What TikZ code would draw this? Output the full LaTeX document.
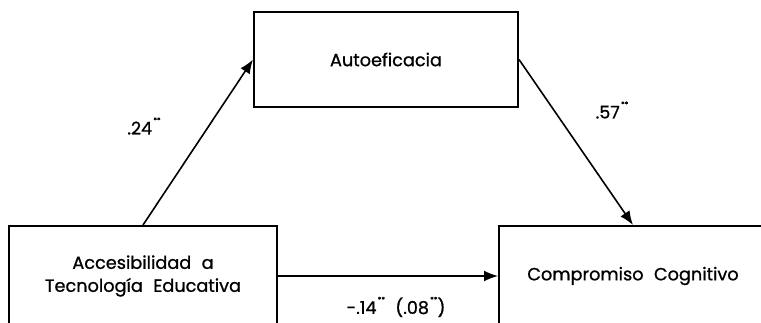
\documentclass[tikz,border=0pt]{standalone}
\usepackage{fontspec}
\setmainfont{Poppins}[WordSpace=2.2, FakeBold=0.9]
\usepackage{tikz}
\usetikzlibrary{arrows.meta, positioning, calc}

\newcommand{\sigstar}{\raisebox{1.2ex}{\fontsize{7.5}{7.5}\selectfont\,**}}

\tikzset{
    varbox/.style={draw=black, line width=2pt, align=center, inner sep=0pt,
          font=\fontsize{17.7}{23}\selectfont},
    path/.style={line width=1.6pt, -{Latex[length=14pt, width=11pt]}},
    coef/.style={font=\fontsize{17.5}{19}\selectfont, inner sep=0pt}
}

\begin{document}
\begin{tikzpicture}[x=1pt, y=-1pt]
    \useasboundingbox (0,0) rectangle (761,323);

    % variables
    \node[varbox, minimum width=264pt, minimum height=95pt] (auto) at (386,59.5) {Autoeficacia};
    \node[varbox, minimum width=268pt, minimum height=100pt] (acces) at (143,276) {Accesibilidad a\\Tecnología Educativa};
    \node[varbox, minimum width=268pt, minimum height=100pt] (compro) at (633,276) {Compromiso Cognitivo};

    % paths
    \draw[path] (acces.north) -- (auto.west);
    \draw[path] (auto.east) -- (compro.north);
    \draw[path] (acces.east) -- (compro.west);

    % coefficients
    \node[coef] (a24) at (144,126) {.24\sigstar};
    \node[coef] (a57) at (612,110) {.57\sigstar};
    \node[coef] (c14) at (396,307) {-.14\sigstar\ (.08\sigstar)};
\end{tikzpicture}
\end{document}
